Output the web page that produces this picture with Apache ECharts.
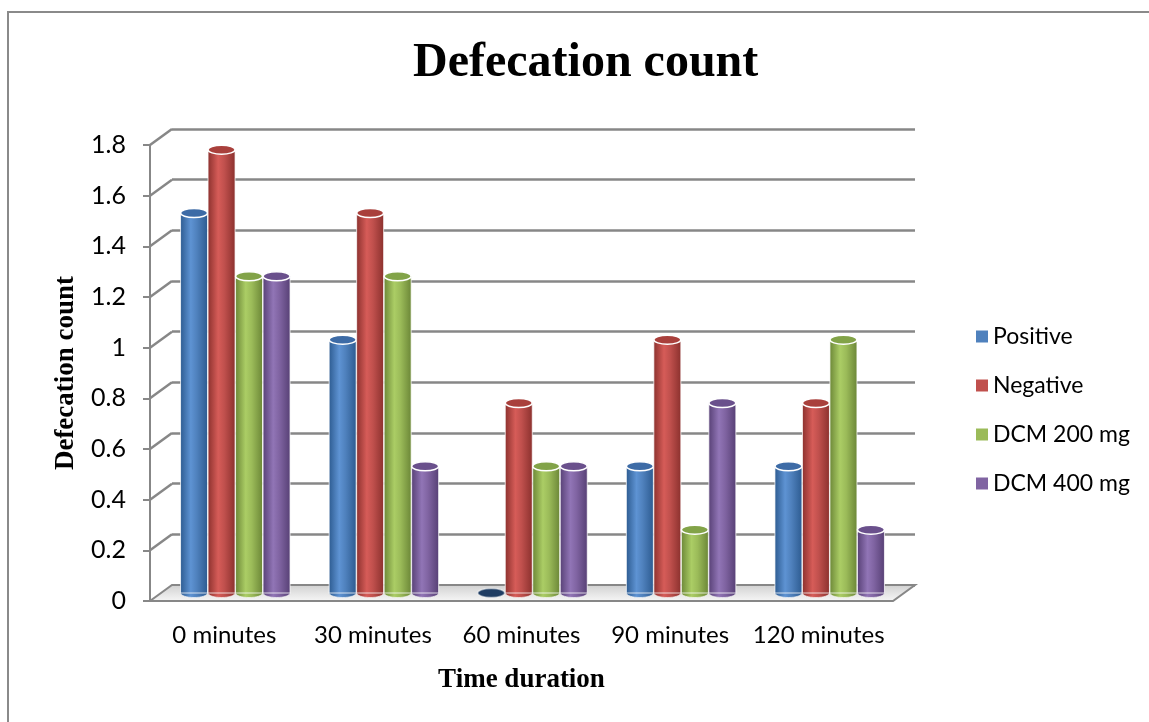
<!DOCTYPE html>
<html>
<head>
<meta charset="utf-8">
<script src="https://cdn.jsdelivr.net/npm/echarts@6/dist/echarts.min.js"></script>
<style>
  html, body { margin: 0; padding: 0; background: #fff; }
  #chart { width: 1149px; height: 722px; }
</style>
</head>
<body>
<div id="chart"></div>
<script>
// Chart data
const categories = ['0 minutes', '30 minutes', '60 minutes', '90 minutes', '120 minutes'];
const positive  = [1.5, 1.0, 0, 0.5, 0.5];
const negative  = [1.75, 1.5, 0.75, 1.0, 0.75];
const dcm200    = [1.25, 1.25, 0.5, 0.25, 1.0];
const dcm400    = [1.25, 0.5, 0.5, 0.75, 0.25];
const seriesNames = ['Positive', 'Negative', 'DCM 200 mg', 'DCM 400 mg'];
const yTicks = [0, 0.2, 0.4, 0.6, 0.8, 1, 1.2, 1.4, 1.6, 1.8];

// Office-style palette: flat, dark edge, light centre, cap
const palette = [
  { flat: '#4F81BD', dark: '#2c5a8f', light: '#5e93d3', cap: '#3d6ba6' },
  { flat: '#C0504D', dark: '#8a302d', light: '#d65c58', cap: '#a9403c' },
  { flat: '#9BBB59', dark: '#6a8536', light: '#abcd65', cap: '#82a348' },
  { flat: '#8064A2', dark: '#563f74', light: '#9175b6', cap: '#6a508c' }
];
const values = [positive, negative, dcm200, dcm400];

// Plot planes: back wall, bar plane (middle), front axis plane
const DX = 11, DY = 8;
const MID = { left: 161, top: 137, width: 743, height: 456 };
const gridBack  = { left: MID.left + DX, top: MID.top - DY, width: MID.width, height: MID.height };
const gridMid   = MID;
const gridFront = { left: MID.left - DX, top: MID.top + DY, width: MID.width, height: MID.height };

const axisGray = '#878787';
const BAR_W = 27;      // cylinder diameter
const BAR_STEP = 27.5; // centre-to-centre spacing inside a group
const CAP_H = 9;       // ellipse height of cylinder ends

function cylGradient(p) {
  return new echarts.graphic.LinearGradient(0, 0, 1, 0, [
    { offset: 0, color: p.dark },
    { offset: 0.38, color: p.light },
    { offset: 0.6, color: p.flat },
    { offset: 1, color: p.dark }
  ]);
}

const series = [];

// Walls: diagonal side-wall lines and floor slab drawn on the back plane
series.push({
  type: 'custom',
  xAxisIndex: 0, yAxisIndex: 0,
  z: 1,
  silent: true,
  data: yTicks,
  renderItem: function (params, api) {
    const v = api.value(0);
    const p = api.coord([0, v]);
    const children = [];
    if (v === 0) {
      const r = api.coord([1, 0]);
      children.push({
        type: 'polygon',
        shape: { points: [p, r, [r[0] - 2 * DX, r[1] + 2 * DY], [p[0] - 2 * DX, p[1] + 2 * DY]] },
        style: {
          fill: new echarts.graphic.LinearGradient(0, 0, 0, 1, [
            { offset: 0, color: '#cfcfcf' },
            { offset: 0.7, color: '#ececec' },
            { offset: 1, color: '#f7f7f7' }
          ]),
          stroke: axisGray, lineWidth: 2
        }
      });
    } else {
      children.push({
        type: 'line',
        shape: { x1: p[0], y1: p[1], x2: p[0] - 2 * DX, y2: p[1] + 2 * DY },
        style: { stroke: axisGray, lineWidth: 2.5 }
      });
    }
    return { type: 'group', children: children };
  }
});

// Cylinders: one custom series per group member, placed side by side in each category
values.forEach(function (vals, i) {
  const p = palette[i];
  const shift = (i - 1.5) * BAR_STEP;
  series.push({
    name: seriesNames[i],
    type: 'custom',
    xAxisIndex: 1, yAxisIndex: 1,
    z: 3 + i * 0.01,
    data: vals.map(function (v, k) { return [k, v]; }),
    encode: { x: 0, y: 1 },
    renderItem: function (params, api) {
      const base = api.coord([api.value(0), 0]);
      const top = api.coord([api.value(0), api.value(1)]);
      const cx = base[0] + shift;
      const rx = BAR_W / 2, ry = CAP_H / 2;
      const h = base[1] - top[1];
      const children = [];
      if (h > 0.5) {
        children.push({
          type: 'ellipse',
          shape: { cx: cx, cy: base[1], rx: rx, ry: ry },
          style: { fill: cylGradient(p), stroke: 'rgba(255,255,255,0.6)', lineWidth: 1 }
        });
        children.push({
          type: 'rect',
          shape: { x: cx - rx, y: top[1], width: BAR_W, height: h },
          style: { fill: cylGradient(p), stroke: 'rgba(255,255,255,0.75)', lineWidth: 1 }
        });
      }
      children.push({
        type: 'ellipse',
        shape: { cx: cx, cy: top[1], rx: rx, ry: ry },
        style: {
          fill: h > 0.5 ? p.cap : '#1f3d63',
          stroke: h > 0.5 ? '#ffffff' : 'rgba(255,255,255,0.5)',
          lineWidth: 1.5
        }
      });
      return { type: 'group', children: children };
    }
  });
});

const option = {
  backgroundColor: '#ffffff',
  animation: false,
  title: {
    text: 'Defecation count',
    left: 408,
    top: 35,
    textStyle: { fontFamily: 'Liberation Serif', fontWeight: 'bold', fontSize: 48, color: '#000' }
  },
  legend: {
    orient: 'vertical',
    left: 971,
    top: 320,
    itemWidth: 12,
    itemHeight: 12,
    itemGap: 26,
    icon: 'rect',
    textStyle: { fontFamily: 'Lato', fontSize: 23, color: '#000' },
    data: seriesNames.map(function (n, i) {
      return { name: n, itemStyle: { color: palette[i].flat } };
    })
  },
  graphic: [{
    type: 'rect',
    silent: true,
    z: 0,
    shape: { x: 8, y: 12, width: 1200, height: 760 },
    style: { fill: 'none', stroke: '#8a8a8a', lineWidth: 2 }
  }],
  grid: [
    Object.assign({ containLabel: false }, gridBack),
    Object.assign({ containLabel: false }, gridMid),
    Object.assign({ containLabel: false }, gridFront)
  ],
  xAxis: [
    { type: 'value', gridIndex: 0, min: 0, max: 1, show: false },
    { type: 'category', gridIndex: 1, data: categories, show: false },
    {
      type: 'category', gridIndex: 2, data: categories,
      axisLine: { show: false }, axisTick: { show: false },
      axisLabel: { interval: 0, fontFamily: 'Lato', fontSize: 24, color: '#000', margin: 22 },
      name: 'Time duration',
      nameLocation: 'middle',
      nameGap: 66,
      nameTextStyle: { fontFamily: 'Liberation Serif', fontWeight: 'bold', fontSize: 27, color: '#000' }
    }
  ],
  yAxis: [
    {
      type: 'value', gridIndex: 0, min: 0, max: 1.8, interval: 0.2,
      axisLine: { show: false }, axisTick: { show: false }, axisLabel: { show: false },
      splitLine: { show: true, lineStyle: { color: axisGray, width: 2.5 } }
    },
    { type: 'value', gridIndex: 1, min: 0, max: 1.8, interval: 0.2, show: false, splitLine: { show: false } },
    {
      type: 'value', gridIndex: 2, min: 0, max: 1.8, interval: 0.2,
      axisLine: { show: true, lineStyle: { color: axisGray, width: 2 } },
      axisTick: { show: true, length: 7, lineStyle: { color: axisGray, width: 2 } },
      axisLabel: { fontFamily: 'Lato', fontSize: 25, color: '#000', margin: 24 },
      splitLine: { show: false },
      name: 'Defecation count',
      nameLocation: 'middle',
      nameGap: 70,
      nameTextStyle: { fontFamily: 'Liberation Serif', fontWeight: 'bold', fontSize: 27, color: '#000' }
    }
  ],
  series: series
};

const chart = echarts.init(document.getElementById('chart'), null, { renderer: 'canvas' });
chart.setOption(option);
</script>
</body>
</html>
